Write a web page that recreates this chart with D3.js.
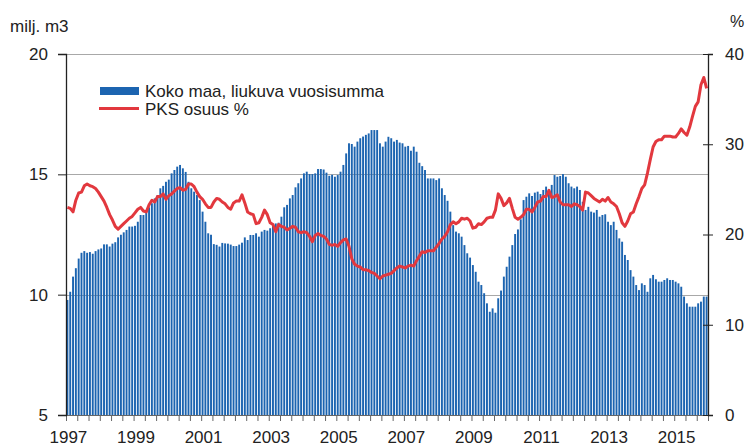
<!DOCTYPE html>
<html>
<head>
<meta charset="utf-8">
<script src="https://cdn.jsdelivr.net/npm/d3@7"></script>
<style>
  body { margin: 0; background: #fff; }
  svg text { font-family: "Liberation Sans", Arial, sans-serif; fill: #222; }
</style>
</head>
<body>
<div id="chart"></div>
<script>
// monthly data, Jan 1997 - Dec 2015
const startYear = 1997;
const yearLabels = ["1997", "1999", "2001", "2003", "2005", "2007", "2009", "2011", "2013", "2015"];
const leftTicks = [5, 10, 15, 20];
const rightTicks = [0, 10, 20, 30, 40];

// Koko maa, liukuva vuosisumma (milj. m3)
const volume = [
  9.78, 10.12, 10.75, 11.10, 11.50, 11.74, 11.81, 11.74, 11.77, 11.70, 11.81, 11.88,
  11.92, 12.09, 12.09, 12.00, 12.12, 12.18, 12.38, 12.49, 12.59, 12.69, 12.83, 12.83,
  12.86, 13.03, 13.31, 13.31, 13.52, 13.63, 13.80, 14.00, 14.14, 14.42, 14.52, 14.69,
  14.78, 15.04, 15.18, 15.32, 15.39, 15.25, 15.10, 14.69, 14.42, 14.28, 14.14, 13.93,
  13.45, 13.03, 12.55, 12.49, 12.10, 12.07, 12.00, 12.15, 12.13, 12.12, 12.08, 12.02,
  12.02, 12.08, 12.16, 12.38, 12.27, 12.48, 12.48, 12.55, 12.41, 12.62, 12.69, 12.66,
  12.76, 12.90, 12.96, 12.99, 13.24, 13.63, 13.73, 14.00, 14.14, 14.46, 14.63, 14.83,
  15.04, 15.11, 15.01, 15.01, 15.04, 15.22, 15.22, 15.20, 15.07, 14.94, 14.98, 14.90,
  14.97, 15.11, 15.39, 15.87, 16.29, 16.26, 16.15, 16.36, 16.50, 16.57, 16.64, 16.70,
  16.84, 16.84, 16.84, 16.29, 16.15, 16.36, 16.56, 16.50, 16.36, 16.43, 16.32, 16.29,
  16.15, 16.18, 15.98, 16.15, 15.94, 15.48, 15.34, 15.18, 14.83, 14.83, 14.83, 14.76,
  14.83, 14.42, 14.14, 13.90, 13.45, 12.89, 12.62, 12.55, 12.41, 12.06, 11.72, 11.54,
  11.23, 10.95, 10.54, 10.40, 10.06, 9.64, 9.29, 9.43, 9.25, 9.85, 10.17, 10.75,
  11.16, 11.58, 12.06, 12.52, 12.71, 13.13, 13.93, 14.07, 14.21, 14.10, 14.24, 14.28,
  14.18, 14.35, 14.49, 14.28, 14.56, 14.97, 14.90, 14.93, 15.01, 14.90, 14.63, 14.49,
  14.42, 14.49, 14.35, 13.86, 13.52, 13.65, 13.45, 13.41, 13.52, 13.24, 13.31, 13.34,
  13.03, 12.89, 13.03, 12.69, 12.34, 12.20, 11.65, 11.44, 11.02, 10.75, 10.40, 10.19,
  10.47, 10.40, 10.12, 10.68, 10.82, 10.64, 10.54, 10.54, 10.61, 10.68, 10.61, 10.61,
  10.54, 10.47, 10.33, 9.92, 9.64, 9.50, 9.50, 9.50, 9.64, 9.71, 9.92, 9.92
];

// PKS osuus %
const pksShare = [
  23.0, 22.9, 22.5, 23.8, 24.6, 24.7, 25.4, 25.6, 25.4, 25.3, 25.1, 24.7,
  24.2, 23.7, 23.0, 22.2, 21.6, 20.9, 20.6, 20.9, 21.2, 21.5, 21.8, 22.0,
  22.4, 22.8, 23.0, 22.6, 22.5, 23.3, 23.8, 23.6, 24.2, 24.2, 24.5, 23.9,
  24.3, 24.5, 24.8, 25.1, 25.2, 24.9, 25.0, 25.6, 25.6, 25.3, 24.7, 24.2,
  23.9, 23.4, 23.0, 23.0, 23.6, 24.0, 23.9, 23.6, 23.4, 23.0, 22.8, 23.5,
  23.7, 23.7, 24.4, 23.5, 22.5, 22.3, 22.2, 21.2, 21.3, 21.9, 22.7, 22.2,
  21.3, 21.1, 20.3, 21.1, 20.9, 20.8, 20.5, 20.7, 20.9, 20.8, 20.3, 20.2,
  20.3, 20.2, 19.8, 19.2, 19.9, 20.1, 19.9, 19.8, 19.5, 18.9, 18.8, 18.9,
  18.7, 19.1, 19.4, 19.5, 18.7, 17.3, 16.7, 16.5, 16.4, 16.1, 16.1, 16.0,
  15.8, 15.7, 15.4, 15.1, 15.4, 15.5, 15.6, 15.7, 16.0, 16.3, 16.5, 16.4,
  16.3, 16.5, 16.6, 16.5, 17.1, 17.6, 18.1, 18.0, 18.2, 18.2, 18.2, 18.6,
  19.0, 19.5, 19.8, 20.3, 21.1, 21.4, 21.2, 21.4, 21.8, 21.7, 21.8, 21.5,
  20.7, 20.8, 21.2, 21.1, 21.4, 21.8, 21.9, 21.9, 22.7, 24.5, 24.0, 23.2,
  23.5, 24.0, 22.9, 21.9, 21.7, 21.9, 22.2, 22.8, 22.8, 22.5, 23.0, 23.6,
  23.7, 24.2, 24.2, 24.9, 24.1, 24.2, 24.4, 23.6, 23.3, 23.3, 23.3, 23.1,
  23.4, 23.3, 23.1, 22.7, 24.7, 24.6, 24.3, 24.0, 23.8, 23.6, 23.9, 23.7,
  24.1, 23.6, 23.4, 23.1, 22.3, 21.3, 20.9, 21.5, 22.3, 22.5, 23.4, 24.2,
  25.1, 25.5, 26.8, 28.3, 29.7, 30.3, 30.5, 30.5, 30.9, 30.9, 30.9, 30.8,
  30.8, 31.2, 31.7, 31.3, 31.0, 31.9, 33.1, 34.2, 34.7, 36.6, 37.4, 36.2
];

const width = 749;
const height = 446;
const marginTop = 54;
const marginRight = 41;
const marginBottom = 31;
const marginLeft = 66;

const blue = "#1c64b0";
const red = "#e2383e";
const grid = "#a8a8a8";

const n = volume.length;

// month index -> x
const x = d3.scaleLinear()
    .domain([0, n])
    .range([marginLeft, width - marginRight]);

const yL = d3.scaleLinear()
    .domain([5, 20])
    .range([height - marginBottom, marginTop]);

const yR = d3.scaleLinear()
    .domain([0, 40])
    .range([height - marginBottom, marginTop]);

const svg = d3.select("#chart").append("svg")
    .attr("width", width)
    .attr("height", height);

// gridlines
svg.append("g")
    .selectAll("line")
    .data([10, 15, 20])
    .join("line")
    .attr("x1", marginLeft)
    .attr("x2", width - marginRight)
    .attr("y1", d => Math.round(yL(d)) + 0.5)
    .attr("y2", d => Math.round(yL(d)) + 0.5)
    .attr("stroke", grid)
    .attr("stroke-width", 1);

// bars
const step = x(1) - x(0);
svg.append("g")
    .selectAll("rect")
    .data(volume)
    .join("rect")
    .attr("x", (d, i) => x(i) + step * 0.16)
    .attr("y", d => yL(d))
    .attr("width", step * 0.68)
    .attr("height", d => yL(5) - yL(d))
    .attr("fill", blue);

// bottom axis, tick every 4 months
svg.append("g")
    .attr("transform", `translate(0,${height - marginBottom})`)
    .call(d3.axisBottom(x).tickValues(d3.range(0, n + 1, 4)).tickSize(6).tickFormat(""))
    .call(g => g.select(".domain").attr("stroke", "#666"))
    .call(g => g.selectAll(".tick line").attr("stroke", "#666"));

// year labels
svg.append("g")
    .selectAll("text")
    .data(yearLabels)
    .join("text")
    .attr("x", d => x((+d - startYear) * 12 + 0.5) + 1)
    .attr("y", height - 3)
    .attr("text-anchor", "middle")
    .attr("font-size", 17)
    .text(d => d);

// left axis
svg.append("g")
    .attr("transform", `translate(${marginLeft},0)`)
    .call(d3.axisLeft(yL).tickValues(leftTicks).tickSize(8).tickPadding(10))
    .call(g => g.selectAll("text").attr("font-size", 17).attr("fill", "#222"))
    .call(g => g.select(".domain").attr("stroke", "#222").attr("stroke-width", 1.3))
    .call(g => g.selectAll(".tick line").attr("stroke", "#222"));

// right axis, ticks cross the line
svg.append("g")
    .attr("transform", `translate(${width - marginRight},0)`)
    .call(d3.axisRight(yR).tickValues(rightTicks).tickSize(5).tickPadding(12))
    .call(g => g.selectAll("text").attr("font-size", 17).attr("fill", "#222"))
    .call(g => g.select(".domain").attr("stroke", "#222").attr("stroke-width", 1.3))
    .call(g => g.selectAll(".tick line").attr("x1", -5).attr("stroke", "#222"));

// line
const line = d3.line()
    .x((d, i) => x(i + 0.5))
    .y(d => yR(d));

svg.append("path")
    .datum(pksShare)
    .attr("fill", "none")
    .attr("stroke", red)
    .attr("stroke-width", 3)
    .attr("stroke-linejoin", "round")
    .attr("d", line);

// unit labels
svg.append("text")
    .attr("x", 10)
    .attr("y", 32)
    .attr("font-size", 17)
    .text("milj. m3");

svg.append("text")
    .attr("x", 737)
    .attr("y", 27)
    .attr("text-anchor", "middle")
    .attr("font-size", 16)
    .text("%");

// legend
const legend = svg.append("g");
legend.append("rect")
    .attr("x", 100).attr("y", 87)
    .attr("width", 39).attr("height", 8)
    .attr("fill", blue);
legend.append("line")
    .attr("x1", 99).attr("x2", 139)
    .attr("y1", 108.5).attr("y2", 108.5)
    .attr("stroke", red)
    .attr("stroke-width", 3);
legend.append("text")
    .attr("x", 145).attr("y", 97)
    .attr("font-size", 17)
    .text("Koko maa, liukuva vuosisumma");
legend.append("text")
    .attr("x", 145).attr("y", 115)
    .attr("font-size", 17)
    .text("PKS osuus %");
</script>
</body>
</html>
